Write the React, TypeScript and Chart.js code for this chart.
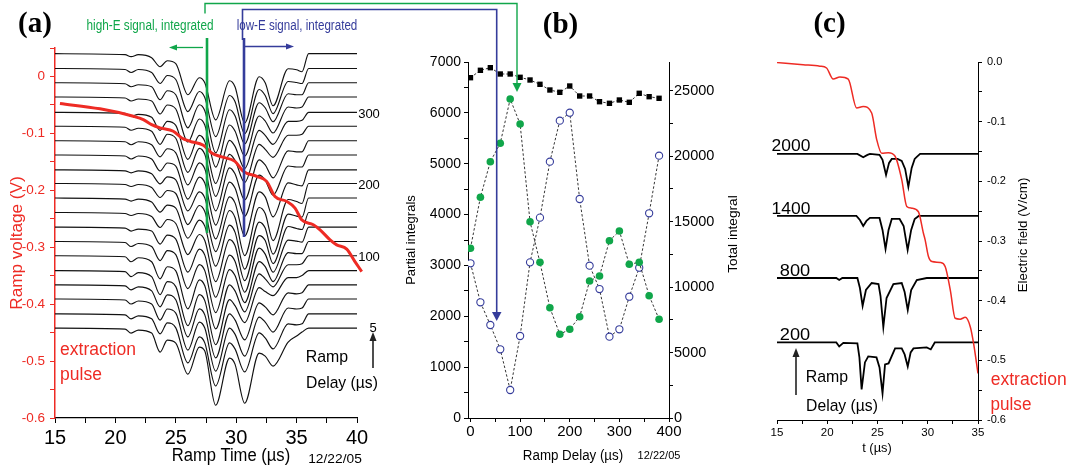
import React, { useEffect, useLayoutEffect, useRef, useState } from "react";
import { Chart, registerables } from "chart.js";

Chart.register(...registerables);

const SANS = '"Liberation Sans", Arial, Helvetica, sans-serif';
const SERIF = '"Liberation Serif", "Times New Roman", serif';
const RED = "#ee2b24";
const GREEN = "#10a64a";
const BLUE = "#353c9b";

// ---------------- Panel (a): ramp-time traces ----------------
const aTickX = [15, 17.5, 20, 22.5, 25, 27.5, 30, 32.5, 35, 37.5, 40];
const aTickY = [-0.6, -0.55, -0.5, -0.45, -0.4, -0.35, -0.3, -0.25, -0.2, -0.15, -0.1, -0.05, 0, 0.05];

// key ramp-time positions (µs) at which each trace is sampled
const traceX = [15, 20.8, 21.3, 21.9, 23.0, 23.7, 24.3, 25.0, 26.0, 26.95, 27.4, 28.3, 29.45, 29.9, 30.7, 31.9, 32.4, 33.05, 34.3, 35.0, 35.45, 36.0, 40];
// ramp delays (µs), top trace first
const traceDelays = [380, 360, 340, 320, 300, 280, 260, 240, 220, 200, 180, 160, 140, 120, 100, 80, 60, 40, 20, 5];
// trace offsets on the voltage axis (V), top trace first
const traceBaselines = [0.04, 0.014, -0.011, -0.036, -0.063, -0.0875, -0.113, -0.138, -0.164, -0.188, -0.2136, -0.239, -0.2646, -0.29, -0.315, -0.341, -0.366, -0.391, -0.417, -0.442];
// signal amplitude (arb. units) per trace at traceX
const tr380 = [0, -1, -3, -1, -4, -13, -7, -10, -41, -24, -29, -66, -27, -33, -69, -23, -29, -52, -15, -16, -18, 0, 0];
const tr360 = [0, -1, -4, -1, -4, -15, -7, -11, -43, -23, -29, -68, -27, -33, -65, -21, -27, -45, -13, -14, -15, 0, 0];
const tr340 = [0, -1, -4, -2, -4, -17, -8, -12, -45, -22, -28, -70, -27, -33, -61, -20, -25, -39, -11, -12, -12, 0, 0];
const tr320 = [0, -1, -4, -2, -4, -17, -8, -12, -45, -22, -28, -70, -28, -34, -59, -19, -24, -36, -10, -11, -10, 0, 0];
const tr300 = [0, -1, -4, -2, -5, -18, -9, -13, -47, -23, -29, -71, -28, -34, -56, -18, -23, -32, -9, -9, -8, 0, 0];
const tr280 = [0, -1, -4, -2, -5, -18, -8, -12, -46, -22, -28, -70, -28, -34, -56, -18, -23, -31, -9, -9, -8, 0, 0];
const tr260 = [0, -1, -4, -1, -4, -16, -8, -12, -44, -22, -28, -70, -27, -33, -59, -19, -24, -37, -10, -11, -11, 0, 0];
const tr240 = [0, -1, -4, -1, -4, -16, -8, -11, -44, -22, -28, -70, -27, -33, -61, -20, -25, -40, -11, -12, -12, 0, 0];
const tr220 = [0, -1, -3, -1, -4, -14, -7, -10, -41, -22, -28, -69, -27, -33, -66, -22, -27, -47, -13, -15, -16, 0, 0];
const tr200 = [0, -1, -3, -1, -4, -14, -7, -10, -41, -22, -28, -68, -27, -34, -72, -24, -30, -57, -16, -18, -20, 0, 0];
const tr180 = [0, -1, -3, -1, -4, -14, -7, -10, -40, -22, -28, -68, -27, -34, -71, -24, -30, -56, -16, -18, -19, 0, 0];
const tr160 = [0, -1, -3, -1, -4, -15, -7, -11, -42, -22, -28, -69, -27, -33, -68, -23, -28, -51, -14, -16, -17, 0, 0];
const tr140 = [0, -1, -4, -2, -4, -17, -8, -12, -45, -22, -28, -70, -28, -34, -65, -21, -27, -45, -13, -14, -15, 0, 0];
const tr120 = [0, -1, -5, -2, -5, -19, -9, -13, -47, -23, -29, -71, -28, -34, -61, -20, -25, -40, -11, -12, -12, 0, 0];
const tr100 = [0, -1, -6, -2, -6, -23, -11, -15, -53, -24, -30, -73, -29, -35, -56, -18, -23, -31, -9, -9, -8, 0, 0];
const tr80 = [0, -1, -6, -2, -6, -24, -11, -16, -55, -24, -30, -74, -29, -35, -52, -17, -21, -25, -7, -7, -5, 0, 0];
const tr60 = [0, -1, -5, -2, -6, -22, -10, -15, -52, -24, -30, -73, -29, -35, -55, -18, -22, -30, -8, -9, -8, 0, 0];
const tr40 = [0, -1, -5, -2, -5, -21, -10, -14, -51, -23, -29, -72, -29, -35, -57, -18, -23, -33, -9, -10, -9, 0, 0];
const tr20 = [0, -1, -5, -2, -5, -20, -9, -14, -49, -23, -29, -72, -29, -35, -58, -19, -24, -35, -10, -11, -10, 0, 0];
const tr5 = [0, -1, -5, -2, -5, -24, -12, -15, -46, -19, -23, -77, -30, -36, -75, -25, -28, -38, -14, -8, -4, 0, 0];
const traceRows = [tr380, tr360, tr340, tr320, tr300, tr280, tr260, tr240, tr220, tr200, tr180, tr160, tr140, tr120, tr100, tr80, tr60, tr40, tr20, tr5];
const signalScaleA = 0.00176; // V per signal unit

// extraction (ramp) pulse, V
const rampX = [15.41, 18.73, 21.48, 22.31, 23.0, 23.69, 24.79, 25.49, 26.18, 27.28, 27.97, 28.8, 29.9, 30.59, 31.7, 32.52, 33.21, 34.18, 34.87, 35.42, 36.38, 36.94, 37.77, 38.32, 39.15, 39.83, 40.39];
const rampY = [-0.0475, -0.0569, -0.0699, -0.0757, -0.0845, -0.0903, -0.0963, -0.108, -0.1139, -0.121, -0.1343, -0.1414, -0.1491, -0.1667, -0.1755, -0.1843, -0.2107, -0.2195, -0.2312, -0.2518, -0.2606, -0.2694, -0.287, -0.2958, -0.3033, -0.3252, -0.3428];

// ---------------- Panel (b): integrals vs ramp delay ----------------
const delayB = [0, 20, 40, 60, 80, 100, 120, 140, 160, 180, 200, 220, 240, 260, 280, 300, 320, 340, 360, 380];
const highE = [3337, 4340, 5040, 5401, 6272, 5781, 3860, 3061, 2169, 1646, 1744, 1992, 2694, 2792, 3486, 3677, 3022, 3061, 2405, 1941];
const lowE = [3042, 2275, 1829, 1351, 551, 1612, 3061, 3939, 5040, 5846, 6003, 4306, 2995, 2536, 1599, 1744, 2385, 2955, 4025, 5158];
const totalInt = [26000, 26566, 26765, 26283, 26283, 26031, 25825, 25496, 25061, 24885, 25366, 24602, 24602, 24167, 24045, 24297, 24121, 24809, 24549, 24427];
const bTickX = [0, 50, 100, 150, 200, 250, 300, 350, 400];
const bTickY = [0, 500, 1000, 1500, 2000, 2500, 3000, 3500, 4000, 4500, 5000, 5500, 6000, 6500, 7000];
const bTickY2 = [0, 2500, 5000, 7500, 10000, 12500, 15000, 17500, 20000, 22500, 25000];

// ---------------- Panel (c): traces and electric field ----------------
const cTickX = [15, 17.5, 20, 22.5, 25, 27.5, 30, 32.5, 35];
const cTickY = [-0.6, -0.55, -0.5, -0.45, -0.4, -0.35, -0.3, -0.25, -0.2, -0.15, -0.1, -0.05, 0];
const cDelays = ["2000", "1400", "800", "200"];
const cBaselines = [-0.154, -0.258, -0.362, -0.47];
const c2000X = [15, 23.0, 23.58, 24.0, 24.25, 25.2, 25.5, 25.85, 26.15, 26.42, 27.0, 27.41, 27.75, 28.07, 28.4, 28.7, 28.91, 29.24, 35];
const c2000Y = [0, 0, -3.3, -1, 0, -1, -6, -21, -9, -5, -5, -7, -15, -33, -14, -5, -3, 0, 0];
const c1400X = [15, 22.9, 23.25, 23.58, 23.9, 24.25, 25.2, 25.5, 25.8, 26.1, 26.42, 27.2, 27.6, 28.0, 28.35, 28.7, 29.1, 35];
const c1400Y = [0, 0, -4, -10, -5, -2, -2, -14, -33, -14, -3, -3, -10, -34, -14, -3, 0, 0];
const c800X = [15, 20.9, 21.19, 21.5, 23.0, 23.25, 23.52, 23.85, 24.42, 25.1, 25.3, 25.58, 25.9, 26.58, 27.41, 27.7, 28.01, 28.35, 28.91, 29.9, 35];
const c800Y = [0, 0, -2, 0, 0, -10, -28, -12, -5, -6, -18, -49, -20, -6, -5, -14, -32, -12, -2, 0, 0];
const c200X = [15, 20.9, 21.19, 21.6, 23.0, 23.2, 23.42, 23.75, 24.08, 24.9, 25.2, 25.5, 25.75, 26.1, 26.75, 27.41, 27.7, 28.01, 28.3, 28.58, 29.9, 30.3, 30.7, 35];
const c200Y = [0, 0, -4, -0.5, -1, -15, -47, -20, -14, -15, -25, -51, -22, -21, -6, -6, -12, -24, -10, -6, -5, -7, 0, 0];
const cTraceX = [c2000X, c1400X, c800X, c200X];
const cTraceY = [c2000Y, c1400Y, c800Y, c200Y];
const signalScaleC = 0.001676;
const fieldX = [15.0, 17.6, 19.26, 19.93, 20.59, 21.26, 22.09, 22.92, 23.58, 24.42, 24.92, 25.42, 26.08, 26.75, 27.41, 27.91, 28.41, 29.07, 29.57, 29.74, 30.07, 30.41, 31.24, 31.74, 32.24, 32.73, 33.23, 33.73, 34.23, 34.56, 35.0];
const fieldY = [-0.001, -0.0045, -0.007, -0.01, -0.0286, -0.025, -0.0286, -0.077, -0.0745, -0.0856, -0.13, -0.153, -0.152, -0.158, -0.197, -0.242, -0.245, -0.251, -0.287, -0.298, -0.326, -0.3345, -0.336, -0.343, -0.382, -0.4295, -0.431, -0.428, -0.4436, -0.4715, -0.522];

// ---------------- helpers ----------------
const isMult = (v: number, step: number) => Math.abs(v / step - Math.round(v / step)) < 1e-6;
const fixedTicks = (vals: number[]) => (scale: any) => {
  scale.ticks = vals.map((value) => ({ value }));
};
function pts(xs: number[], ys: number[], base = 0, k = 1) {
  return xs.map((x, i) => ({ x, y: base + ys[i] * k }));
}
function axis(o: any) {
  return {
    type: "linear",
    position: o.position,
    min: o.min,
    max: o.max,
    afterBuildTicks: fixedTicks(o.ticks),
    afterFit: (s: any) => {
      if (o.isX) s.height = o.fix;
      else s.width = o.fix;
    },
    ticks: {
      autoSkip: false,
      maxRotation: 0,
      minRotation: 0,
      color: o.color,
      padding: o.pad,
      font: { family: SANS, size: o.size },
      callback: o.label,
    },
    grid: { drawOnChartArea: false, drawTicks: true, tickLength: o.tl, color: o.color, tickWidth: 1 },
    border: { display: true, color: o.color, width: o.bw ?? 1 },
  };
}
function baseOptions(padding: any, scales: any) {
  return {
    responsive: false,
    maintainAspectRatio: false,
    animation: false,
    devicePixelRatio: 1,
    events: [],
    layout: { padding, autoPadding: false },
    plugins: { legend: { display: false }, tooltip: { enabled: false }, title: { display: false } },
    scales,
  };
}

function makeA(): any {
  const datasets: any[] = [
    { data: pts(rampX, rampY), showLine: true, borderColor: RED, borderWidth: 3, pointRadius: 0, clip: false, cubicInterpolationMode: "monotone" },
  ];
  traceRows.forEach((row, k) =>
    datasets.push({
      label: String(traceDelays[k]),
      data: pts(traceX, row, traceBaselines[k], signalScaleA),
      showLine: true,
      borderColor: "#111",
      borderWidth: 1.15,
      pointRadius: 0,
      cubicInterpolationMode: "monotone",
    })
  );
  return {
    type: "scatter",
    data: { datasets },
    options: baseOptions({ left: 0, top: 48, right: 43, bottom: 23 }, {
      x: axis({ min: 15, max: 40, ticks: aTickX, label: (v: number) => (isMult(v, 5) ? String(v) : ""), color: "#000", size: 20, tl: 5, pad: 3, position: "bottom", fix: 30, isX: true, bw: 1.2 }),
      y: axis({ min: -0.6, max: 0.05, ticks: aTickY, label: (v: number) => (isMult(v, 0.1) ? (Math.abs(v) < 1e-9 ? "0" : v.toFixed(1)) : ""), color: RED, size: 13.5, tl: 5, pad: 5, position: "left", fix: 55, bw: 1.5 }),
    }),
  };
}

function makeB(): any {
  const line = { showLine: true, borderColor: "#000", borderWidth: 0.8, borderDash: [2.5, 2] };
  return {
    type: "scatter",
    data: {
      datasets: [
        { ...line, data: pts(delayB, highE), yAxisID: "y", pointRadius: 3.8, pointBackgroundColor: GREEN, pointBorderColor: GREEN, pointBorderWidth: 0 },
        { ...line, data: pts(delayB, lowE), yAxisID: "y", pointRadius: 3.6, pointBackgroundColor: "#fff", pointBorderColor: BLUE, pointBorderWidth: 1.1 },
        { ...line, data: pts(delayB, totalInt), yAxisID: "y2", pointStyle: "rect", pointRadius: 3.8, pointBackgroundColor: "#000", pointBorderColor: "#000", pointBorderWidth: 0 },
      ],
    },
    options: baseOptions({ left: 0, top: 62, right: 0, bottom: 23 }, {
      x: axis({ min: -5, max: 400, ticks: bTickX, label: (v: number) => (isMult(v, 100) ? String(v) : ""), color: "#000", size: 15, tl: 4, pad: 1, position: "bottom", fix: 30, isX: true }),
      y: axis({ min: 0, max: 7000, ticks: bTickY, label: (v: number) => (isMult(v, 1000) ? String(v) : ""), color: "#000", size: 14, tl: 4, pad: 3, position: "left", fix: 88 }),
      y2: axis({ min: 0, max: 27200, ticks: bTickY2, label: (v: number) => (isMult(v, 5000) ? String(v) : ""), color: "#000", size: 14.5, tl: 4, pad: 1, position: "right", fix: 51 }),
    }),
  };
}

function makeC(): any {
  const datasets: any[] = [
    { data: pts(fieldX, fieldY), showLine: true, borderColor: RED, borderWidth: 1.5, pointRadius: 0, cubicInterpolationMode: "monotone" },
  ];
  cTraceX.forEach((xs, k) =>
    datasets.push({
      label: cDelays[k],
      data: pts(xs, cTraceY[k], cBaselines[k], signalScaleC),
      showLine: true,
      borderColor: "#000",
      borderWidth: 1.8,
      pointRadius: 0,
    })
  );
  return {
    type: "scatter",
    data: { datasets },
    options: baseOptions({ left: 57, top: 62, right: 0, bottom: 21 }, {
      x: axis({ min: 15, max: 35, ticks: cTickX, label: (v: number) => (isMult(v, 5) ? String(v) : ""), color: "#000", size: 11.5, tl: 4, pad: 2, position: "bottom", fix: 30, isX: true }),
      y: axis({ min: -0.6, max: 0, ticks: cTickY, label: (v: number) => (isMult(v, 0.1) ? v.toFixed(1) : ""), color: "#000", size: 11, tl: 4, pad: 5, position: "right", fix: 94 }),
    }),
  };
}

function ChartCanvas({ left, top, width, height, make }: any) {
  const ref = useRef<HTMLCanvasElement>(null);
  useEffect(() => {
    const chart = new Chart(ref.current as HTMLCanvasElement, make());
    return () => chart.destroy();
  }, []);
  return <canvas ref={ref} width={width} height={height} style={{ position: "absolute", left, top, width, height }} />;
}

function Label({ x, y, text, size, color = "#000", w, rot = 0, bold = false, serif = false }: any) {
  const ref = useRef<HTMLSpanElement>(null);
  const [sx, setSx] = useState(1);
  useLayoutEffect(() => {
    const measure = () => {
      if (w && ref.current && ref.current.offsetWidth > 0) setSx(w / ref.current.offsetWidth);
    };
    measure();
    const f: any = (document as any).fonts;
    if (f && f.ready) f.ready.then(measure);
  }, [w, text, size]);
  return (
    <span
      ref={ref}
      style={{
        position: "absolute",
        left: x,
        top: y,
        whiteSpace: "nowrap",
        fontSize: size,
        lineHeight: 1,
        color,
        fontFamily: serif ? SERIF : SANS,
        fontWeight: bold ? 700 : 400,
        transform: `translate(-50%, -50%) rotate(${rot}deg) scaleX(${sx})`,
        transformOrigin: "50% 50%",
      }}
    >
      {text}
    </span>
  );
}

export default function App() {
  return (
    <div style={{ position: "absolute", left: 0, top: 0, width: 1072, height: 471, background: "#fff", overflow: "hidden" }}>
      <ChartCanvas left={0} top={0} width={400} height={471} make={makeA} />
      <ChartCanvas left={380} top={0} width={340} height={471} make={makeB} />
      <ChartCanvas left={720} top={0} width={352} height={471} make={makeC} />
      <svg width={1072} height={471} style={{ position: "absolute", left: 0, top: 0, pointerEvents: "none" }}>
        <polyline points="205,13.5 205,3.5 517,3.5 517,84" fill="none" stroke={GREEN} strokeWidth={1.4} />
        <line x1={207} y1={38} x2={207} y2={233} stroke={GREEN} strokeWidth={2.6} />
        <polygon points="512.5,83 521.5,83 517,92" fill={GREEN} />
        <line x1={203} y1={47.5} x2={176} y2={47.5} stroke={GREEN} strokeWidth={1.3} />
        <polygon points="169,47.5 177,44.5 177,50.5" fill={GREEN} />
        <polyline points="242.5,40 242.5,9.5 496.7,9.5 496.7,312" fill="none" stroke={BLUE} strokeWidth={1.6} />
        <line x1={244} y1={38} x2={244} y2={237} stroke={BLUE} strokeWidth={2.6} />
        <polygon points="492,312 501.5,312 496.7,321" fill={BLUE} />
        <line x1={245} y1={46.5} x2={287} y2={46.5} stroke={BLUE} strokeWidth={1.3} />
        <polygon points="294,46.5 286,43.5 286,49.5" fill={BLUE} />
        <line x1={373} y1={368} x2={373} y2={340} stroke="#222" strokeWidth={1.6} />
        <polygon points="373,332 369.5,341 376.5,341" fill="#222" />
        <line x1={796} y1={395} x2={796} y2={356} stroke="#222" strokeWidth={1.6} />
        <polygon points="796,348 792.5,357 799.5,357" fill="#222" />
      </svg>

      {/* panel (a) */}
      <Label x={35} y={22} text="(a)" size={29} bold serif />
      <Label x={149.5} y={25} text="high-E signal, integrated" size={14} w={127} color={GREEN} />
      <Label x={296.5} y={25} text="low-E signal, integrated" size={14} w={121} color={BLUE} />
      <Label x={369} y={113} text="300" size={13} />
      <Label x={369} y={184} text="200" size={13} />
      <Label x={369} y={256} text="100" size={13} />
      <Label x={373} y={327} text="5" size={13} />
      <Label x={327} y={356} text="Ramp" size={17} w={42} />
      <Label x={342} y={382} text="Delay (µs)" size={17} w={72} />
      <Label x={98} y={350} text="extraction" size={17.5} w={76} color={RED} />
      <Label x={81} y={375} text="pulse" size={17.5} w={42} color={RED} />
      <Label x={231} y={455} text="Ramp Time (µs)" size={18} w={118} />
      <Label x={335} y={458} text="12/22/05" size={13} w={54} />
      <Label x={16} y={243} text="Ramp voltage (V)" size={16.5} w={133} rot={-90} color={RED} />

      {/* panel (b) */}
      <Label x={560.5} y={23} text="(b)" size={29} bold serif />
      <Label x={410} y={240} text="Partial integrals" size={13} w={90} rot={-90} />
      <Label x={733} y={234} text="Total integral" size={13.5} w={78} rot={-90} />
      <Label x={573} y={455} text="Ramp Delay (µs)" size={14} w={100} />
      <Label x={658.5} y={455.5} text="12/22/05" size={11.5} w={43} />

      {/* panel (c) */}
      <Label x={829.5} y={21.5} text="(c)" size={29} bold serif />
      <Label x={1023} y={234.5} text="Electric field (V/cm)" size={12.5} w={115} rot={-90} />
      <Label x={877} y={447.5} text="t (µs)" size={12} w={30} />
      <Label x={790.5} y={145} text={cDelays[0]} size={17} w={39} />
      <Label x={790.5} y={207.5} text={cDelays[1]} size={17} w={39} />
      <Label x={795} y={269.5} text={cDelays[2]} size={17} w={30} />
      <Label x={795} y={334} text={cDelays[3]} size={17} w={30} />
      <Label x={827} y={375.5} text="Ramp" size={17} w={42} />
      <Label x={842} y={404.5} text="Delay (µs)" size={17} w={72} />
      <Label x={1028.7} y={379.5} text="extraction" size={17.5} w={76} color={RED} />
      <Label x={1011} y={404.5} text="pulse" size={17.5} w={41} color={RED} />
    </div>
  );
}
